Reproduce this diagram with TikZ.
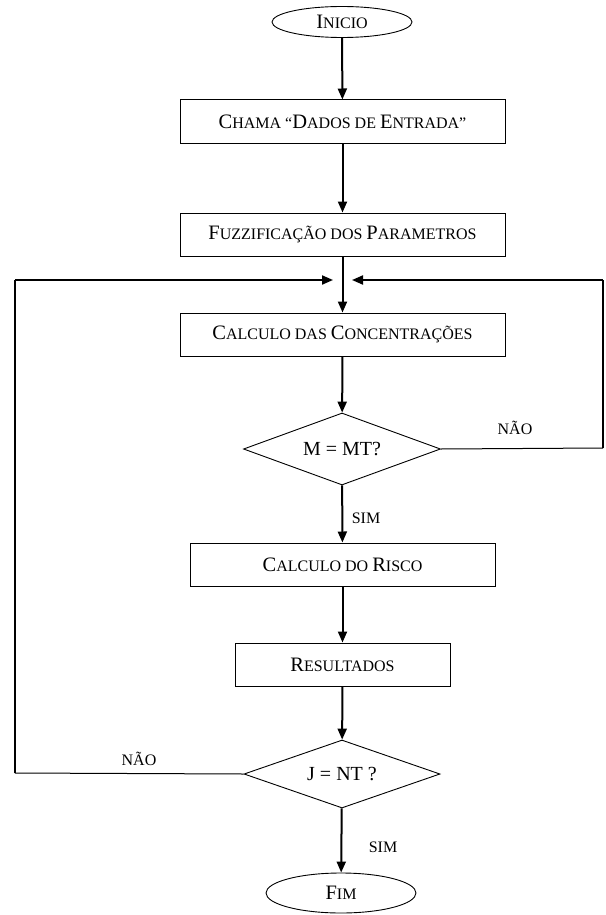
\documentclass[tikz,border=0pt]{standalone}
\usepackage{fontspec}
\setmainfont{Liberation Serif}
\usetikzlibrary{shapes.geometric,arrows.meta}
\newcommand\Bg[1]{{\fontsize{20.5}{21}\selectfont #1}}
\newcommand\Sm[1]{{\fontsize{16}{17}\selectfont #1}}
\begin{document}
\begin{tikzpicture}[x=1pt,y=-1pt,
  boxst/.style={draw,line width=1pt,minimum height=43pt,inner sep=0pt,font=\fontsize{16}{17}\selectfont},
  ellst/.style={draw,ellipse,line width=0.9pt,minimum width=140pt,minimum height=31pt,inner sep=0pt},
  diast/.style={draw,diamond,aspect=2.7,line width=0.9pt,inner sep=0pt,font=\fontsize{20}{20}\selectfont},
  flow/.style={line width=2pt,-{Triangle[length=11pt,width=9pt]}},
  thinline/.style={line width=1pt},
  lbl/.style={font=\fontsize{16}{17}\selectfont,inner sep=0pt}]
\useasboundingbox (0,0) rectangle (605,915);
\node[ellst] (ini) at (342,22) {\Bg{I}\Sm{NICIO}};
\node[boxst,minimum width=325pt] (b1) at (342.5,121.5) {\Bg{C}\Sm{HAMA “}\Bg{D}\Sm{ADOS DE }\Bg{E}\Sm{NTRADA”}};
\node[boxst,minimum width=325pt] (b2) at (342.5,234.5) {\Bg{F}\Sm{UZZIFICAÇÃO DOS }\Bg{P}\Sm{ARAMETROS}};
\node[boxst,minimum width=325pt] (b3) at (342.5,334.5) {\Bg{C}\Sm{ALCULO DAS }\Bg{C}\Sm{ONCENTRAÇÕES}};
\node[diast,minimum width=197pt,minimum height=72pt] (d1) at (342,449) {M = MT?};
\node[boxst,minimum width=305pt] (b4) at (342.5,564.5) {\Bg{C}\Sm{ALCULO DO }\Bg{R}\Sm{ISCO}};
\node[boxst,minimum width=215pt] (b5) at (342.5,664.5) {\Bg{R}\Sm{ESULTADOS}};
\node[diast,minimum width=196pt,minimum height=68pt] (d2) at (342,774) {J = NT ?};
\node[ellst,minimum width=150pt,minimum height=40pt] (fim) at (341,893) {\Bg{F}\Sm{IM}};
\coordinate (ml) at (333,280);
\coordinate (mr) at (352,280);
\coordinate (lt) at (15,280);
\coordinate (lb) at (15,773);
\coordinate (rt) at (603,280);
\coordinate (rb) at (603,448);
\draw[flow] (ini) -- (b1);
\draw[flow] (b1) -- (b2);
\draw[flow] (b2) -- (b3);
\draw[flow] (b3) -- (d1);
\draw[flow] (d1) -- (b4);
\draw[flow] (b4) -- (b5);
\draw[flow] (b5) -- (d2);
\draw[flow] (d2) -- (fim);
\draw[thinline] (d1.east) -- (rb);
\draw[line width=1.3pt] (rb) -- (rt);
\draw[flow] (rt) -- (mr);
\draw[thinline] (d2.west) -- (lb);
\draw[line width=1.3pt] (lb) -- (lt);
\draw[flow] (lt) -- (ml);
\node[lbl] (n1) at (515,428) {NÃO};
\node[lbl] (s1) at (366,518) {SIM};
\node[lbl] (n2) at (139,759) {NÃO};
\node[lbl] (s2) at (383,847) {SIM};
\end{tikzpicture}
\end{document}
